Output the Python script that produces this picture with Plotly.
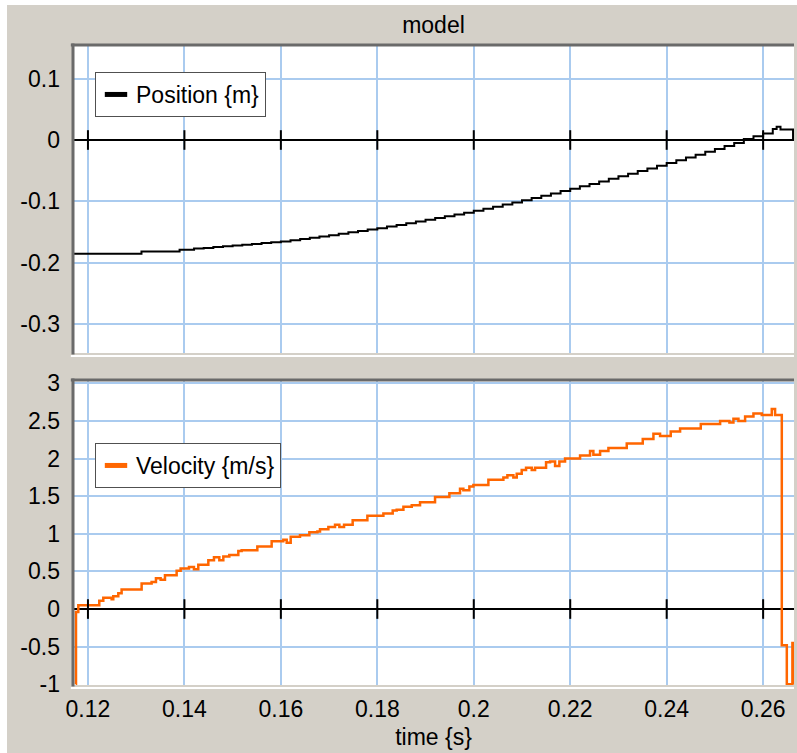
import plotly.graph_objects as go

# ---------------- data ----------------
time_ticks = [0.12, 0.14, 0.16, 0.18, 0.20, 0.22, 0.24, 0.26]
time_tick_text = ["0.12", "0.14", "0.16", "0.18", "0.2", "0.22", "0.24", "0.26"]

pos_ticks = [0.1, 0.0, -0.1, -0.2, -0.3]
pos_tick_text = ["0.1", "0", "-0.1", "-0.2", "-0.3"]

vel_ticks = [3, 2.5, 2, 1.5, 1, 0.5, 0, -0.5, -1]
vel_tick_text = ["3", "2.5", "2", "1.5", "1", "0.5", "0", "-0.5", "-1"]

time_pos = [0.1170, 0.1311, 0.1390, 0.1420, 0.1440, 0.1460, 0.1480, 0.1500,
            0.1520, 0.1540, 0.1560, 0.1580, 0.1600, 0.1620, 0.1640, 0.1660,
            0.1680, 0.1700, 0.1720, 0.1740, 0.1760, 0.1780, 0.1800, 0.1820,
            0.1840, 0.1860, 0.1880, 0.1900, 0.1920, 0.1940, 0.1960, 0.1980,
            0.2000, 0.2020, 0.2040, 0.2060, 0.2080, 0.2100, 0.2120, 0.2140,
            0.2160, 0.2180, 0.2200, 0.2220, 0.2240, 0.2260, 0.2280, 0.2300,
            0.2320, 0.2340, 0.2360, 0.2380, 0.2400, 0.2420, 0.2440, 0.2460,
            0.2480, 0.2500, 0.2520, 0.2540, 0.2560, 0.2580, 0.2600, 0.2620,
            0.2628, 0.2636, 0.2662]
position = [-0.1855, -0.1820, -0.1790, -0.1772, -0.1760, -0.1747, -0.1734, -0.1721,
            -0.1708, -0.1695, -0.1682, -0.1669, -0.1656, -0.1636, -0.1616, -0.1595,
            -0.1574, -0.1552, -0.1530, -0.1507, -0.1485, -0.1462, -0.1440, -0.1413,
            -0.1386, -0.1358, -0.1330, -0.1300, -0.1272, -0.1243, -0.1214, -0.1185,
            -0.1156, -0.1122, -0.1088, -0.1053, -0.1018, -0.0983, -0.0946, -0.0909,
            -0.0872, -0.0834, -0.0796, -0.0756, -0.0716, -0.0675, -0.0634, -0.0592,
            -0.0549, -0.0506, -0.0463, -0.0420, -0.0376, -0.0331, -0.0286, -0.0240,
            -0.0193, -0.0146, -0.0098, -0.0049, 0.0015, 0.0060, 0.0108, 0.0180,
            0.0215, 0.0170, 0.0]

time_vel = [0.11749, 0.11752, 0.1180, 0.12235, 0.12318, 0.12491, 0.12525, 0.12629,
            0.12698, 0.13113, 0.13320, 0.13410, 0.13507, 0.13597, 0.13839, 0.13922,
            0.14095, 0.14198, 0.14288, 0.14496, 0.14613, 0.14724, 0.14807, 0.14931,
            0.15118, 0.15187, 0.15512, 0.15809, 0.16051, 0.16121, 0.16204, 0.16397,
            0.16591, 0.16757, 0.16812, 0.16985, 0.17123, 0.17213, 0.17310, 0.17489,
            0.17794, 0.18126, 0.18319, 0.18402, 0.18541, 0.18714, 0.18886, 0.19197,
            0.19494, 0.19715, 0.19784, 0.19909, 0.19992, 0.20303, 0.20614, 0.20697,
            0.20821, 0.20891, 0.20994, 0.21084, 0.21202, 0.21271, 0.21499, 0.21582,
            0.21686, 0.21775, 0.21893, 0.22204, 0.22411, 0.22480, 0.22619, 0.22792,
            0.23172, 0.23504, 0.23725, 0.23863, 0.24084, 0.24278, 0.24707, 0.25108,
            0.25301, 0.25384, 0.25488, 0.25626, 0.25799, 0.25972, 0.26179, 0.26248,
            0.26387, 0.26491, 0.26607, 0.26630]
velocity = [-1.0, -0.04, 0.05, 0.11, 0.15, 0.13, 0.17, 0.21,
            0.26, 0.34, 0.36, 0.41, 0.39, 0.45, 0.51, 0.54,
            0.56, 0.53, 0.59, 0.65, 0.69, 0.65, 0.70, 0.72,
            0.77, 0.78, 0.83, 0.90, 0.92, 0.88, 0.96, 0.98,
            1.02, 1.03, 1.06, 1.09, 1.12, 1.09, 1.12, 1.18,
            1.24, 1.27, 1.31, 1.32, 1.36, 1.38, 1.42, 1.49,
            1.54, 1.60, 1.58, 1.63, 1.65, 1.72, 1.75, 1.78,
            1.75, 1.80, 1.85, 1.88, 1.85, 1.88, 1.95, 1.96,
            1.90, 1.96, 2.00, 2.04, 2.10, 2.05, 2.10, 2.14,
            2.20, 2.26, 2.33, 2.30, 2.36, 2.40, 2.46, 2.50,
            2.48, 2.53, 2.50, 2.56, 2.60, 2.58, 2.66, 2.58,
            -0.48, -1.0, -0.45, -1.0]

# ---------------- style ----------------
FONT = "Liberation Sans, Arial, sans-serif"
BG = "#d4d0c8"
GRID = "#aacbef"
ORANGE = "#ff6600"
FRAME = "#6a6a6a"

fig = go.Figure()

# main curves
fig.add_trace(go.Scatter(x=time_pos, y=position, mode="lines", line=dict(color="black", width=2, shape="hv"),
                         xaxis="x", yaxis="y", showlegend=False, hoverinfo="skip"))
fig.add_trace(go.Scatter(x=time_vel, y=velocity, mode="lines", line=dict(color=ORANGE, width=2.5, shape="hv"),
                         xaxis="x2", yaxis="y2", showlegend=False, hoverinfo="skip"))

# tick marks on the zero lines
for xa, ya in (("x", "y"), ("x2", "y2")):
    fig.add_trace(go.Scatter(x=time_ticks, y=[0] * len(time_ticks), mode="markers",
                             marker=dict(symbol="line-ns", size=14, line=dict(color="black", width=2)),
                             xaxis=xa, yaxis=ya, showlegend=False, hoverinfo="skip"))

# legend entries
fig.add_trace(go.Scatter(x=[None], y=[None], mode="markers", name="Position {m}",
                         marker=dict(symbol="line-ew", size=16, line=dict(color="black", width=5)),
                         xaxis="x", yaxis="y", legend="legend"))
fig.add_trace(go.Scatter(x=[None], y=[None], mode="markers", name="Velocity {m/s}",
                         marker=dict(symbol="line-ew", size=16, line=dict(color=ORANGE, width=5)),
                         xaxis="x2", yaxis="y2", legend="legend2"))

xrange = [0.1169, 0.2664]
common_x = dict(range=xrange, tickvals=time_ticks, ticktext=time_tick_text, showgrid=True,
                gridcolor=GRID, gridwidth=2, zeroline=False, showline=False, ticks="",
                tickfont=dict(size=23, color="black", family=FONT))
common_y = dict(showgrid=True, gridcolor=GRID, gridwidth=2, zeroline=True, zerolinecolor="black",
                zerolinewidth=2, showline=False, ticks="", ticklabelstandoff=12,
                tickfont=dict(size=23, color="black", family=FONT))

legend_common = dict(bgcolor="white", bordercolor="#505050", borderwidth=1,
                     font=dict(size=23, color="black", family=FONT),
                     xanchor="left", yanchor="top", itemclick=False, itemdoubleclick=False)

shapes = []
for xd, yd, h in (("x domain", "y domain", 308), ("x2 domain", "y2 domain", 305)):
    shapes.append(dict(type="line", xref=xd, yref=yd, x0=0, x1=0, y0=-0.005, y1=1.005,
                       line=dict(color=FRAME, width=3), layer="above"))
    shapes.append(dict(type="line", xref=xd, yref=yd, x0=-0.003, x1=1, y0=1, y1=1,
                       line=dict(color=FRAME, width=3), layer="above"))
    shapes.append(dict(type="line", xref=xd, yref=yd, x0=-0.003, x1=1.0, y0=-3.0 / h, y1=-3.0 / h,
                       line=dict(color="white", width=2), layer="above"))
# white outer strips (top and left)
shapes.append(dict(type="rect", xref="paper", yref="paper", x0=-73 / 721, x1=-66 / 721,
                   y0=-68 / 640, y1=685 / 640, fillcolor="white", line=dict(width=0), layer="above"))
shapes.append(dict(type="rect", xref="paper", yref="paper", x0=-73 / 721, x1=724 / 721,
                   y0=680 / 640, y1=685 / 640, fillcolor="white", line=dict(width=0), layer="above"))

fig.update_layout(
    width=797, height=753,
    margin=dict(l=73, r=3, t=45, b=68),
    paper_bgcolor=BG, plot_bgcolor="white",
    font=dict(family=FONT, size=23, color="black"),
    title=dict(text="model", x=0.5, xref="paper", y=1 - 25 / 753, yanchor="middle",
               font=dict(size=23, color="black", family=FONT)),
    xaxis=dict(anchor="y", showticklabels=False, matches="x2", **common_x),
    xaxis2=dict(anchor="y2", ticklabelstandoff=8,
                title=dict(text="time {s}", standoff=7, font=dict(size=23, color="black", family=FONT)),
                **common_x),
    yaxis=dict(domain=[332 / 640, 1.0], range=[-0.3475, 0.155], tickvals=pos_ticks,
               ticktext=pos_tick_text, **common_y),
    yaxis2=dict(domain=[0.0, 305 / 640], range=[-1.01, 3.045], tickvals=vel_ticks,
                ticktext=vel_tick_text, **common_y),
    legend=dict(x=22 / 721, y=1 - 27 / 640, **legend_common),
    legend2=dict(x=22 / 721, y=242 / 640, **legend_common),
    shapes=shapes,
    hovermode=False,
)

fig.write_html("out.html", config={"displayModeBar": False},
               post_script="document.body.style.margin='0';document.body.style.overflow='hidden';")
